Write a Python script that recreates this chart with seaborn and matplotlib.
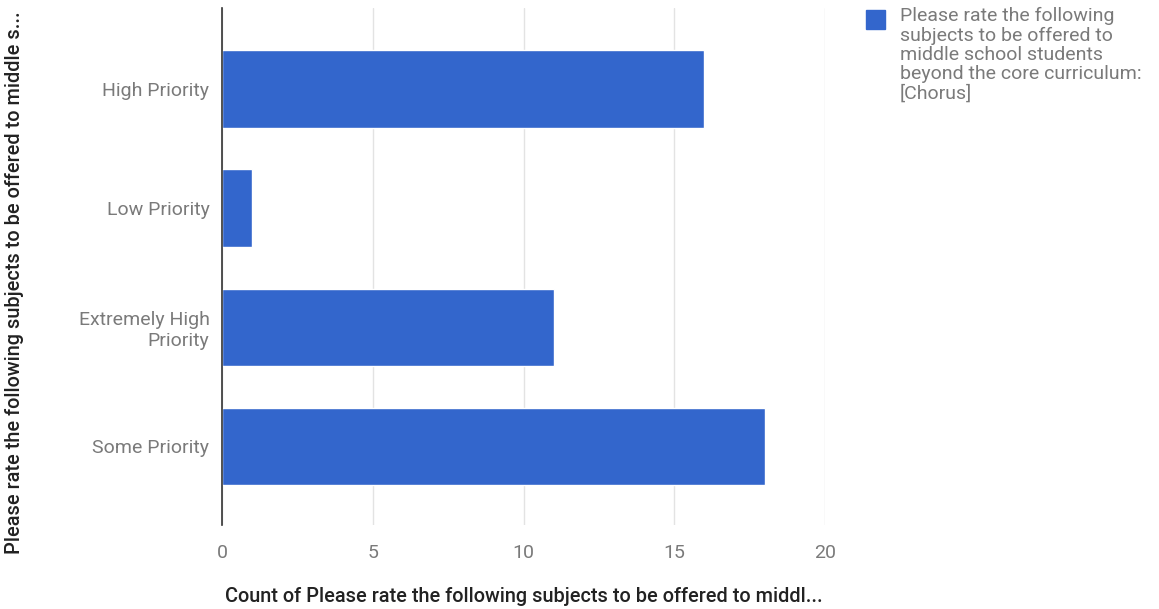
import pandas as pd
import matplotlib
matplotlib.use("Agg")
import matplotlib.pyplot as plt
import seaborn as sns

# data
categories = ["High Priority", "Low Priority", "Extremely High\nPriority", "Some Priority"]
counts = [16, 1, 11, 18]
x_ticks = [0, 5, 10, 15, 20]

series_name = ("Please rate the following\nsubjects to be offered to\nmiddle school students\n"
               "beyond the core curriculum:\n[Chorus]")
x_title = "Count of Please rate the following subjects to be offered to middl..."
y_title = "Please rate the following subjects to be offered to middle s..."

bar_color = "#3366cc"
df = pd.DataFrame({"category": categories, "count": counts})

sns.set_theme(style="white")
plt.rcParams["font.family"] = ["Roboto", "DejaVu Sans"]

W, H = 1159, 609
fig = plt.figure(figsize=(W / 100, H / 100), dpi=100)
ax = fig.add_axes([222 / W, 1 - 525 / H, (825 - 222) / W, (525 - 8) / H])

sns.barplot(data=df, x="count", y="category", orient="h", color=bar_color,
            saturation=1, width=0.65, ax=ax)

ax.set_xlim(0, 20)
ax.set_ylim(3.66, -0.68)
ax.set_xticks(x_ticks)
ax.set_xticklabels([str(t) for t in x_ticks])
ax.xaxis.grid(True, color="#e3e3e3", linewidth=1)
ax.set_axisbelow(True)
for s in ["top", "right", "bottom"]:
    ax.spines[s].set_visible(False)
ax.spines["left"].set_color("#333333")
ax.spines["left"].set_linewidth(1.2)
ax.tick_params(axis="both", length=0, colors="#7a7a7a", labelsize=14)
ax.tick_params(axis="x", pad=14)
ax.tick_params(axis="y", pad=9)

ax.set_xlabel(x_title, fontsize=14.3, color="#222222", fontweight="medium")
ax.xaxis.set_label_coords(0.5, (525 - 597) / 517)
ax.xaxis.label.set_va("center")
ax.set_ylabel("")
fig.text(15 / W, 1 - 283 / H, y_title, rotation=90, ha="center", va="center",
         fontsize=14.3, color="#222222", fontweight="medium")

# legend
fig.patches.append(plt.Rectangle((866 / W, 1 - 29 / H), 19 / W, 19 / H,
                                 transform=fig.transFigure, color=bar_color))
fig.text(900 / W, 1 - 7 / H, series_name, ha="left", va="top",
         fontsize=14, color="#7a7a7a", linespacing=1.1)

fig.savefig("out.png", dpi=100)
